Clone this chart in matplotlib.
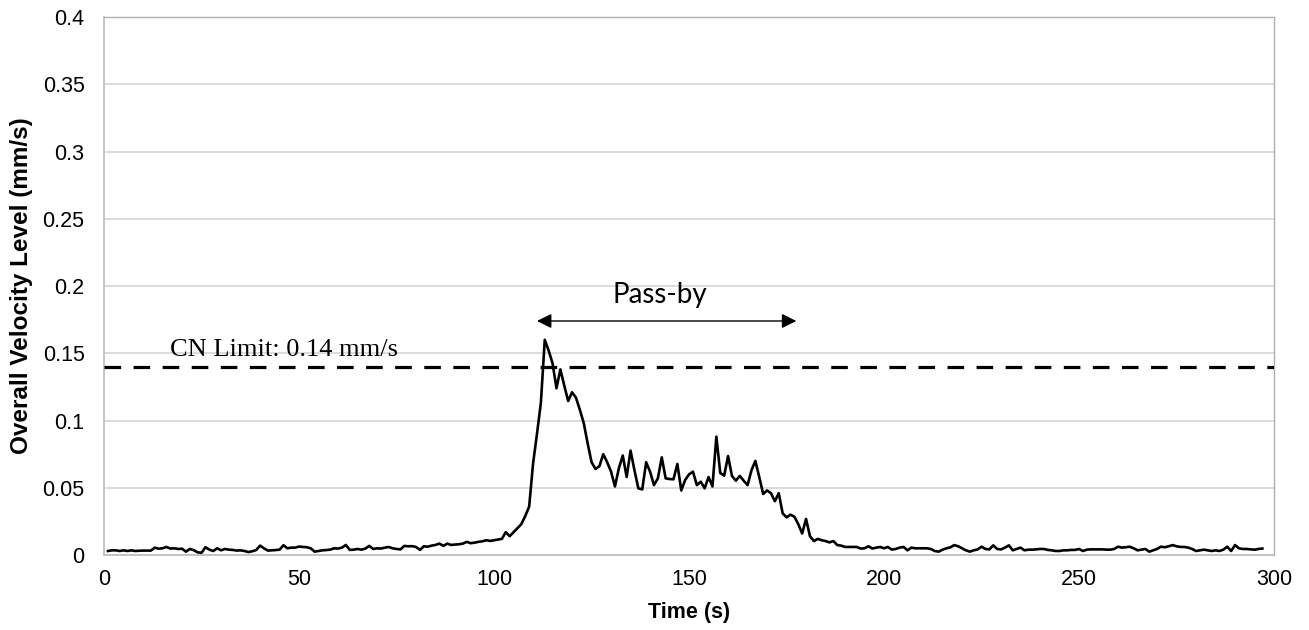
import numpy as np
import matplotlib
matplotlib.use("Agg")
import matplotlib.pyplot as plt
from matplotlib.ticker import FuncFormatter

# Overall velocity level sampled once per second during a train pass-by
time_s = list(range(1, 298))
velocity = [
    # 1-50
    0.0030, 0.0035, 0.0035, 0.0030, 0.0035, 0.0030, 0.0035, 0.0030, 0.0032, 0.0033,
    0.0033, 0.0033, 0.0055, 0.0047, 0.0050, 0.0060, 0.0048, 0.0050, 0.0045, 0.0047,
    0.0025, 0.0045, 0.0036, 0.0020, 0.0017, 0.0058, 0.0040, 0.0030, 0.0050, 0.0035,
    0.0045, 0.0040, 0.0038, 0.0033, 0.0035, 0.0030, 0.0022, 0.0028, 0.0037, 0.0070,
    0.0050, 0.0033, 0.0035, 0.0037, 0.0040, 0.0073, 0.0050, 0.0055, 0.0055, 0.0063,
    # 51-100
    0.0060, 0.0058, 0.0050, 0.0025, 0.0030, 0.0035, 0.0037, 0.0040, 0.0050, 0.0048,
    0.0055, 0.0075, 0.0038, 0.0040, 0.0045, 0.0040, 0.0048, 0.0068, 0.0045, 0.0050,
    0.0048, 0.0055, 0.0060, 0.0050, 0.0045, 0.0042, 0.0068, 0.0065, 0.0066, 0.0060,
    0.0038, 0.0065, 0.0062, 0.0070, 0.0075, 0.0085, 0.0068, 0.0085, 0.0075, 0.0078,
    0.0080, 0.0085, 0.0098, 0.0088, 0.0092, 0.0098, 0.0102, 0.0110, 0.0105, 0.0110,
    # 101-150
    0.0115, 0.0120, 0.0170, 0.0140, 0.0170, 0.0200, 0.0230, 0.0290, 0.0360, 0.0680,
    0.0900, 0.1130, 0.1600, 0.1520, 0.1425, 0.1240, 0.1380, 0.1260, 0.1145, 0.1210,
    0.1170, 0.1080, 0.0980, 0.0830, 0.0690, 0.0640, 0.0660, 0.0750, 0.0690, 0.0620,
    0.0510, 0.0645, 0.0740, 0.0580, 0.0776, 0.0630, 0.0496, 0.0488, 0.0690, 0.0620,
    0.0520, 0.0570, 0.0726, 0.0570, 0.0565, 0.0563, 0.0677, 0.0480, 0.0558, 0.0600,
    # 151-200
    0.0620, 0.0520, 0.0545, 0.0496, 0.0580, 0.0510, 0.0880, 0.0610, 0.0590, 0.0736,
    0.0588, 0.0553, 0.0588, 0.0553, 0.0520, 0.0630, 0.0700, 0.0580, 0.0454, 0.0480,
    0.0460, 0.0400, 0.0460, 0.0310, 0.0280, 0.0300, 0.0285, 0.0230, 0.0160, 0.0268,
    0.0140, 0.0104, 0.0120, 0.0110, 0.0104, 0.0094, 0.0104, 0.0074, 0.0070, 0.0060,
    0.0060, 0.0060, 0.0060, 0.0048, 0.0050, 0.0065, 0.0048, 0.0055, 0.0060, 0.0050,
    # 201-250
    0.0060, 0.0040, 0.0045, 0.0055, 0.0060, 0.0035, 0.0055, 0.0050, 0.0050, 0.0050,
    0.0050, 0.0045, 0.0030, 0.0025, 0.0040, 0.0050, 0.0057, 0.0074, 0.0065, 0.0050,
    0.0035, 0.0025, 0.0035, 0.0042, 0.0062, 0.0045, 0.0042, 0.0072, 0.0045, 0.0042,
    0.0055, 0.0072, 0.0035, 0.0045, 0.0055, 0.0035, 0.0040, 0.0040, 0.0042, 0.0045,
    0.0045, 0.0038, 0.0035, 0.0030, 0.0030, 0.0035, 0.0035, 0.0038, 0.0038, 0.0045,
    # 251-297
    0.0030, 0.0040, 0.0042, 0.0042, 0.0042, 0.0042, 0.0040, 0.0040, 0.0045, 0.0062,
    0.0055, 0.0058, 0.0062, 0.0050, 0.0035, 0.0040, 0.0045, 0.0025, 0.0035, 0.0045,
    0.0062, 0.0058, 0.0065, 0.0074, 0.0065, 0.0060, 0.0060, 0.0055, 0.0045, 0.0030,
    0.0035, 0.0040, 0.0035, 0.0030, 0.0035, 0.0030, 0.0040, 0.0062, 0.0030, 0.0074,
    0.0050, 0.0045, 0.0045, 0.0042, 0.0040, 0.0045, 0.0048,
]

cn_limit = 0.14
limit_label = "CN Limit: 0.14 mm/s"
passby_label = "Pass-by"
passby_start, passby_end, passby_level = 111.0, 177.5, 0.174

x_ticks = [0, 50, 100, 150, 200, 250, 300]
y_ticks = [0, 0.05, 0.1, 0.15, 0.2, 0.25, 0.3, 0.35, 0.4]

plt.rcParams["font.family"] = ["Liberation Sans", "DejaVu Sans"]

fig = plt.figure(figsize=(13.09, 6.30), dpi=100)
ax = fig.add_axes([0.0795, 0.119, 0.8938, 0.854])

ax.set_xlim(0, 300)
ax.set_ylim(0, 0.4)
ax.set_xticks(x_ticks)
ax.set_yticks(y_ticks)
ax.yaxis.set_major_formatter(FuncFormatter(lambda v, _: f"{v:g}"))
ax.tick_params(length=0, labelsize=15.5, colors="black")
ax.tick_params(axis="y", pad=14)
ax.tick_params(axis="x", pad=10)

ax.grid(axis="y", color="#d9d9d9", linewidth=1.3)
ax.set_axisbelow(True)

for side in ("left", "bottom"):
    ax.spines[side].set_color("#bfbfbf")
    ax.spines[side].set_linewidth(1.3)
for side in ("top", "right"):
    ax.spines[side].set_color("#b0b0b0")
    ax.spines[side].set_linewidth(1.0)
    ax.spines[side].set_linestyle((0, (1, 1)))

# Measured signal
ax.plot(time_s, velocity, color="black", linewidth=1.9, zorder=3)

# Criterion limit
ax.plot([0, 300], [cn_limit, cn_limit], color="black", linewidth=2.3,
        linestyle=(0, (5.2, 3.9)), zorder=3)
ax.text(17, 0.1445, limit_label, family=["Liberation Serif", "DejaVu Serif"],
        fontsize=19, ha="left", va="bottom")

# Pass-by window
ax.annotate("", xy=(passby_start, passby_level), xytext=(passby_end, passby_level),
            arrowprops=dict(arrowstyle="<|-|>", color="black", lw=1.0,
                            mutation_scale=22, shrinkA=0, shrinkB=0))
ax.text(142.6, 0.1835, passby_label,
        family=["Lato", "DejaVu Sans"], fontsize=20, ha="center", va="bottom")

ax.set_xlabel("Time (s)", fontsize=15.5, fontweight="bold", labelpad=9)
ax.set_ylabel("Overall Velocity Level (mm/s)", fontsize=17.5, fontweight="bold", labelpad=7)

fig.savefig("out.png", dpi=100, facecolor="white")
